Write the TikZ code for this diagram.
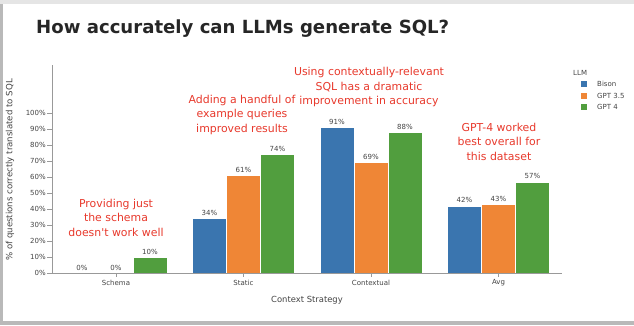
\documentclass[tikz,border=0pt]{standalone}
\usepackage{fontspec}
\setmainfont{DejaVu Sans}[Ligatures=TeXOff]
\definecolor{cblue}{HTML}{3A75AF}
\definecolor{corange}{HTML}{EF8636}
\definecolor{cgreen}{HTML}{519E3E}
\definecolor{cred}{HTML}{E8392C}
\definecolor{ctxt}{HTML}{444444}
\begin{document}
\begin{tikzpicture}[x=1pt,y=-1pt,
  small/.style={font=\fontsize{7}{8}\selectfont,text=ctxt,inner sep=0pt},
  note/.style={font=\fontsize{10.9}{14.5}\selectfont,text=cred,align=center,inner sep=0pt},
  bar/.style={draw=white,line width=0.4pt},
  axisline/.style={draw=gray!80,line width=0.6pt}]
\useasboundingbox (0,0) rectangle (634,325);
% card background and shadow
\fill[gray!55] (0,0) rectangle (634,325);
\fill[gray!20] (0,0) rectangle (634,4);
\fill[white] (3,4) rectangle (634,321);
% title
\node[anchor=base west,inner sep=0pt,font=\fontsize{18.1}{21}\bfseries\selectfont,text=black!85] (title) at (36,33) {How accurately can LLMs generate SQL?};
% axes
\coordinate (o) at (52,273);
\coordinate (ytop) at (52,65);
\coordinate (xend) at (562,273);
\draw[axisline] (ytop) -- (o) -- (xend);
\foreach \v in {0,10,...,100}{
  \draw[axisline] (47,{273-1.6*\v}) -- (52,{273-1.6*\v});
  \node[small,anchor=east] at (46,{273-1.6*\v}) {\v\%};
}
\node[small,rotate=90,font=\fontsize{8.6}{10}\selectfont] (ytitle) at (10,170) {\% of questions correctly translated to SQL};
% bars
\foreach \c/\name/\a/\b/\g in {116/Schema/0/0/10, 243.5/Static/34/61/74, 371/Contextual/91/69/88, 498.5/Avg/42/43/57}{
  \fill[cblue,bar] ({\c-51},273) rectangle ({\c-17},{273-1.6*\a});
  \fill[corange,bar] ({\c-17},273) rectangle ({\c+17},{273-1.6*\b});
  \fill[cgreen,bar] ({\c+17},273) rectangle ({\c+51},{273-1.6*\g});
  \node[small,anchor=base] at ({\c-34},{273-1.6*\a-3}) {\a\%};
  \node[small,anchor=base] at (\c,{273-1.6*\b-3}) {\b\%};
  \node[small,anchor=base] at ({\c+34},{273-1.6*\g-3}) {\g\%};
  \draw[axisline] (\c,273) -- (\c,277);
  \node[small] at (\c,283) {\name};
}
\draw[axisline] (o) -- (xend);
\node[small,font=\fontsize{8.4}{10}\selectfont] (xtitle) at (307,300) {Context Strategy};
% annotations
\node[note] (n1) at (116,217.5) {Providing just\\the schema\\doesn't work well};
\node[note] (n2) at (242,114.5) {Adding a handful of\\example queries\\improved results};
\node[note] (n3) at (369,87) {Using contextually-relevant\\SQL has a dramatic\\improvement in accuracy};
\node[note] (n4) at (499,141.5) {GPT-4 worked\\best overall for\\this dataset};
% legend
\node[small,anchor=west] (lt) at (573,73) {LLM};
\fill[cblue] (581,81) rectangle (587,87);
\fill[corange] (581,92.5) rectangle (587,98.5);
\fill[cgreen] (581,104) rectangle (587,110);
\node[small,anchor=west] (l1) at (597,84) {Bison};
\node[small,anchor=west] (l2) at (597,95.5) {GPT 3.5};
\node[small,anchor=west] (l3) at (597,107) {GPT 4};
\end{tikzpicture}
\end{document}
